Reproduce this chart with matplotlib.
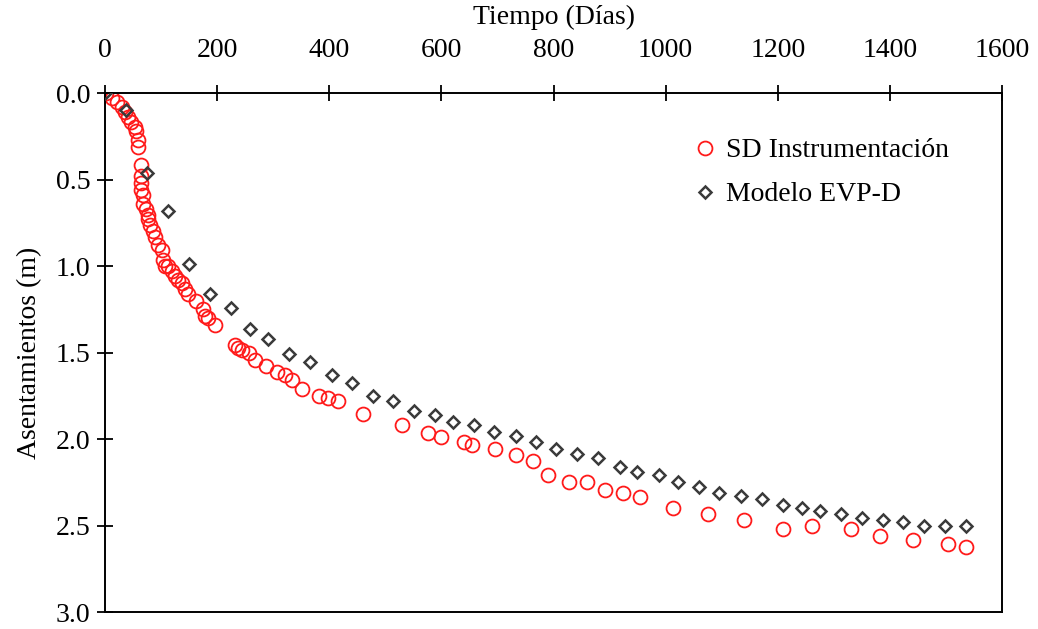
import matplotlib.pyplot as plt
from matplotlib.ticker import FormatStrFormatter

plt.rcParams['font.family'] = ['Liberation Serif', 'DejaVu Serif']

# SD Instrumentacion (measured settlements)
sd_days = [2, 12, 21, 30, 36, 41, 47, 53, 56, 59, 59, 65, 65, 65, 65, 68, 68, 73, 77, 77,
           80, 86, 89, 95, 101, 104, 107, 113, 119, 125, 131, 137, 143, 148, 163, 175, 178,
           184, 196, 232, 238, 244, 257, 267, 288, 307, 321, 334, 352, 382, 398, 415, 460,
           530, 576, 599, 640, 654, 695, 733, 763, 790, 827, 859, 891, 924, 955, 1013, 1075,
           1139, 1209, 1261, 1331, 1383, 1441, 1504, 1536]
sd_sett = [0.00, 0.03, 0.05, 0.08, 0.11, 0.14, 0.166, 0.195, 0.22, 0.27, 0.31, 0.416, 0.48,
           0.52, 0.56, 0.59, 0.64, 0.67, 0.705, 0.73, 0.76, 0.80, 0.83, 0.88, 0.907, 0.965,
           1.00, 1.00, 1.03, 1.06, 1.08, 1.10, 1.13, 1.16, 1.20, 1.25, 1.29, 1.30, 1.34,
           1.457, 1.475, 1.486, 1.505, 1.543, 1.576, 1.61, 1.63, 1.66, 1.71, 1.75, 1.76,
           1.78, 1.855, 1.92, 1.967, 1.986, 2.02, 2.035, 2.06, 2.09, 2.125, 2.21, 2.25, 2.25,
           2.295, 2.313, 2.333, 2.40, 2.434, 2.47, 2.52, 2.50, 2.52, 2.56, 2.584, 2.607, 2.622]

# Modelo EVP-D
evp_days = [0, 37, 75, 112, 149, 187, 225, 258, 291, 328, 365, 404, 441, 478, 513, 551, 588,
            621, 658, 694, 733, 768, 805, 842, 879, 918, 949, 988, 1022, 1059, 1096, 1134,
            1172, 1209, 1243, 1276, 1313, 1350, 1387, 1424, 1461, 1499, 1536]
evp_sett = [0.00, 0.10, 0.46, 0.68, 0.99, 1.16, 1.245, 1.366, 1.424, 1.509, 1.555, 1.63,
            1.678, 1.75, 1.778, 1.836, 1.861, 1.90, 1.919, 1.957, 1.985, 2.02, 2.058, 2.089,
            2.108, 2.163, 2.19, 2.21, 2.246, 2.275, 2.31, 2.327, 2.347, 2.38, 2.40, 2.414,
            2.435, 2.455, 2.47, 2.48, 2.50, 2.50, 2.50]

fig = plt.figure(figsize=(10.38, 6.29), dpi=100)
ax = fig.add_axes([0.1012, 0.027, 0.8641, 0.8251])

ax.plot(sd_days, sd_sett, 'o', mfc='none', mec='#ff1a1a', mew=1.3, ms=10,
        label='SD Instrumentación', zorder=2)
ax.plot(evp_days, evp_sett, 'D', mfc='none', mec='#3a3a3a', mew=1.8, ms=6.5,
        label='Modelo EVP-D', zorder=3)

ax.set_xlim(0, 1600)
ax.set_ylim(3.0, 0.0)
ax.set_xticks(range(0, 1601, 200))
ax.set_yticks([0.0, 0.5, 1.0, 1.5, 2.0, 2.5, 3.0])
ax.yaxis.set_major_formatter(FormatStrFormatter('%.1f'))

ax.xaxis.tick_top()
ax.xaxis.set_label_position('top')
ax.tick_params(axis='both', direction='inout', length=11, width=1.3, labelsize=20)
ax.tick_params(axis='x', pad=16)
ax.tick_params(axis='y', pad=5)
for s in ax.spines.values():
    s.set_linewidth(1.4)

ax.set_xlabel('Tiempo (Días)', fontsize=20, labelpad=10)
ax.set_ylabel('Asentamientos (m)', fontsize=20, labelpad=10)

ax.legend(loc='upper left', bbox_to_anchor=(0.646, 0.935), frameon=False,
          fontsize=20, handlelength=0.7, handletextpad=0.4, labelspacing=0.67,
          borderaxespad=0)

fig.savefig('out.png', dpi=100)
